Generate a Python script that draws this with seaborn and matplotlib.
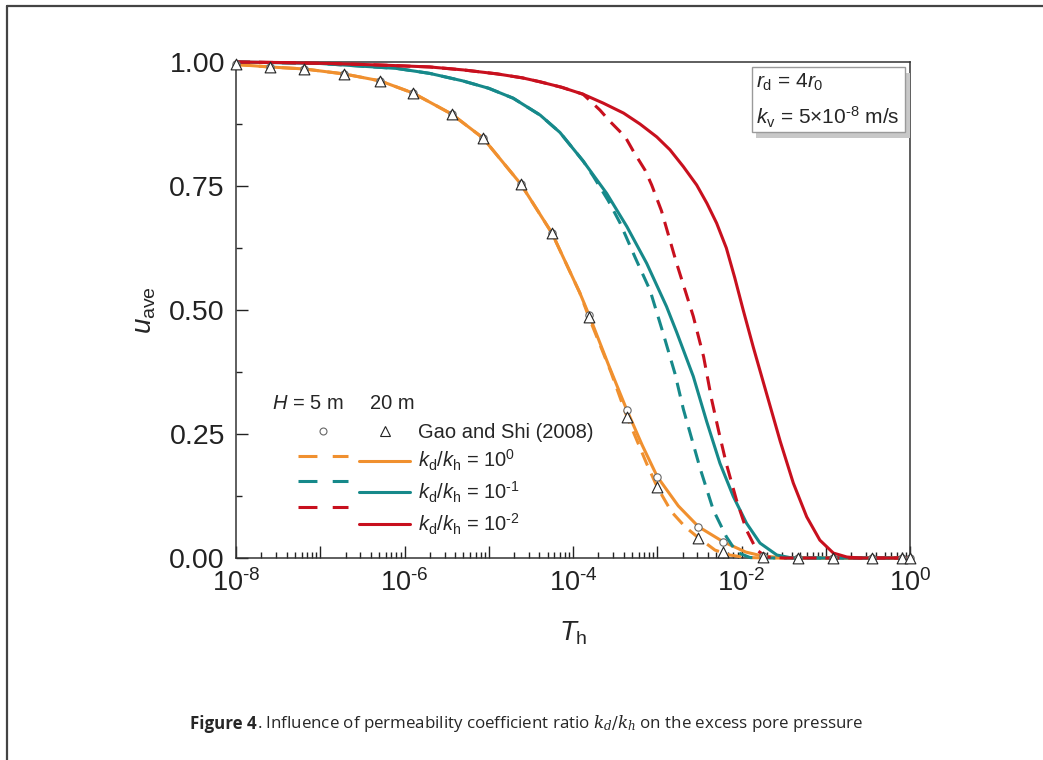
import numpy as np
import pandas as pd
import matplotlib.pyplot as plt
import matplotlib.ticker as mticker
import seaborn as sns
from matplotlib.lines import Line2D
from matplotlib.patches import Rectangle

# ---- data (log10 of T_h, u_ave) ----
# Gao and Shi (2008) points
gao_logT = [-8.0, -7.6, -7.19, -6.72, -6.29, -5.9, -5.44, -5.07, -4.62, -4.25, -3.81,
            -3.36, -3.0, -2.52, -2.22, -1.74, -1.33, -0.91, -0.455, -0.1, 0.0]
gao_u_5m = [0.995, 0.99, 0.986, 0.976, 0.962, 0.9375, 0.895, 0.847, 0.754, 0.655, 0.49,
            0.298, 0.164, 0.063, 0.033, 0.004, 0.0, 0.0, 0.0, 0.0, 0.0]
gao_u_20m = [0.995, 0.99, 0.986, 0.976, 0.962, 0.9375, 0.895, 0.847, 0.754, 0.655, 0.485,
             0.285, 0.143, 0.04, 0.013, 0.003, 0.0, 0.0, 0.0, 0.0, 0.0]

# kd/kh = 10^0
r0_solid_logT = [-8.0, -7.6, -7.19, -6.72, -6.29, -5.9, -5.44, -5.07, -4.62, -4.25, -3.92, -3.81,
                 -3.58, -3.36, -3.18, -3.0, -2.75, -2.51, -2.22, -1.95, -1.75, -1.55, -1.3, 0.0]
r0_solid_u = [0.995, 0.99, 0.986, 0.976, 0.962, 0.9375, 0.895, 0.847, 0.754, 0.655, 0.535, 0.49,
              0.39, 0.298, 0.228, 0.164, 0.105, 0.063, 0.033, 0.012, 0.004, 0.001, 0.0, 0.0]
r0_dash_logT = [-8.0, -7.6, -7.19, -6.72, -6.29, -5.9, -5.44, -5.07, -4.62, -4.25, -3.92, -3.81,
                -3.55, -3.36, -3.125, -3.0, -2.83, -2.67, -2.52, -2.315, -2.14, -1.95, -1.7, 0.0]
r0_dash_u = [0.995, 0.99, 0.986, 0.976, 0.962, 0.9375, 0.895, 0.847, 0.754, 0.655, 0.535, 0.485,
             0.375, 0.285, 0.19, 0.143, 0.093, 0.063, 0.042, 0.016, 0.006, 0.001, 0.0, 0.0]

# kd/kh = 10^-1
r1_solid_logT = [-8.0, -7.0, -6.09, -5.7, -5.31, -5.0, -4.71, -4.39, -4.155, -3.878, -3.6, -3.36,
                 -3.125, -2.89, -2.769, -2.572, -2.413, -2.256, -2.097, -1.94, -1.78, -1.58, -1.4, 0.0]
r1_solid_u = [1.0, 0.997, 0.987, 0.977, 0.962, 0.947, 0.927, 0.893, 0.858, 0.80, 0.735, 0.668,
              0.594, 0.507, 0.455, 0.366, 0.275, 0.191, 0.124, 0.07, 0.03, 0.006, 0.0, 0.0]
r1_dash_logT = [-8.0, -7.0, -6.09, -5.7, -5.31, -5.0, -4.71, -4.39, -4.155, -3.878, -3.76, -3.58,
                -3.44, -3.26, -3.086, -2.93, -2.79, -2.69, -2.59, -2.49, -2.335, -2.18, -2.06,
                -1.9, -1.7, 0.0]
r1_dash_u = [1.0, 0.997, 0.987, 0.977, 0.962, 0.947, 0.927, 0.893, 0.858, 0.80, 0.77, 0.72,
             0.675, 0.605, 0.54, 0.453, 0.372, 0.30, 0.24, 0.18, 0.097, 0.043, 0.012,
             0.001, 0.0, 0.0]

# kd/kh = 10^-2
r2_solid_logT = [-8.0, -7.5, -6.88, -6.3, -5.7, -5.3, -4.9, -4.6, -4.39, -4.134, -3.88, -3.64,
                 -3.4, -3.205, -3.006, -2.849, -2.69, -2.532, -2.41, -2.295, -2.18, -2.08, -1.98,
                 -1.86, -1.7, -1.54, -1.385, -1.226, -1.07, -0.91, -0.75, -0.6, 0.0]
r2_solid_u = [1.0, 0.999, 0.997, 0.994, 0.99, 0.984, 0.976, 0.968, 0.96, 0.949, 0.935, 0.917,
              0.897, 0.875, 0.849, 0.823, 0.789, 0.752, 0.715, 0.675, 0.625, 0.565, 0.50,
              0.425, 0.33, 0.235, 0.151, 0.083, 0.036, 0.01, 0.002, 0.0, 0.0]
r2_dash_logT = [-8.0, -7.5, -6.88, -6.3, -5.7, -5.3, -4.9, -4.6, -4.39, -4.134, -3.88, -3.68,
                -3.56, -3.38, -3.28, -3.145, -3.066, -2.95, -2.85, -2.77, -2.67, -2.572, -2.45,
                -2.355, -2.27, -2.18, -2.06, -1.94, -1.82, -1.7, -1.5, 0.0]
r2_dash_u = [1.0, 0.999, 0.997, 0.994, 0.99, 0.984, 0.976, 0.968, 0.96, 0.949, 0.935, 0.903,
             0.88, 0.849, 0.819, 0.782, 0.752, 0.70, 0.641, 0.594, 0.54, 0.487, 0.406,
             0.32, 0.255, 0.19, 0.117, 0.056, 0.016, 0.002, 0.0, 0.0]

ratio_labels = [r'$k_{\rm d}/k_{\rm h}$ = 10$^{0}$', r'$k_{\rm d}/k_{\rm h}$ = 10$^{\text{-}1}$',
                r'$k_{\rm d}/k_{\rm h}$ = 10$^{\text{-}2}$']
colors = ['#F0902F', '#16898A', '#C8101E']

curves = [
    (r0_dash_logT, r0_dash_u, colors[0], True),
    (r0_solid_logT, r0_solid_u, colors[0], False),
    (r1_dash_logT, r1_dash_u, colors[1], True),
    (r1_solid_logT, r1_solid_u, colors[1], False),
    (r2_dash_logT, r2_dash_u, colors[2], True),
    (r2_solid_logT, r2_solid_u, colors[2], False),
]

sns.set_style('ticks')
plt.rcParams['font.family'] = ['Liberation Sans', 'DejaVu Sans']
plt.rcParams['mathtext.fontset'] = 'custom'
plt.rcParams['mathtext.rm'] = 'Liberation Sans'
plt.rcParams['mathtext.it'] = 'Liberation Sans:italic'
plt.rcParams['mathtext.bf'] = 'Liberation Sans:bold'

fig = plt.figure(figsize=(10.43, 7.6), dpi=100)
ax = fig.add_axes([236 / 1043, 1 - 558 / 760, 674 / 1043, 496 / 760])

lw = 2.2
dash_style = (0, (4.6, 2.9))
for logT, u, c, dashed in curves:
    df = pd.DataFrame({'T': 10.0 ** np.array(logT), 'u': u})
    sns.lineplot(data=df, x='T', y='u', ax=ax, color=c, lw=lw, estimator=None, sort=False,
                 linestyle=dash_style if dashed else '-', clip_on=False, zorder=3)

gao = pd.DataFrame({'T': 10.0 ** np.array(gao_logT), 'u5': gao_u_5m, 'u20': gao_u_20m})
sns.scatterplot(data=gao, x='T', y='u5', ax=ax, marker='o', s=28, color='white',
                edgecolor='#666666', linewidth=0.8, clip_on=False, zorder=5)
sns.scatterplot(data=gao, x='T', y='u20', ax=ax, marker='^', s=60, color='white',
                edgecolor='#222222', linewidth=0.8, clip_on=False, zorder=6)

ax.set_xscale('log')
ax.set_xlim(1e-8, 1)
ax.set_ylim(0, 1)
ax.xaxis.set_major_locator(mticker.LogLocator(base=10, numticks=20))
ax.xaxis.set_minor_locator(mticker.LogLocator(base=10, subs=np.arange(2, 10), numticks=20))


def xfmt(v, pos):
    e = int(round(np.log10(v)))
    if e % 2:
        return ''
    if e < 0:
        return r'$10^{\text{-}%d}$' % (-e)
    return r'$10^{%d}$' % e


ax.xaxis.set_major_formatter(mticker.FuncFormatter(xfmt))
ax.xaxis.set_minor_formatter(mticker.NullFormatter())
ax.yaxis.set_major_locator(mticker.MultipleLocator(0.25))
ax.yaxis.set_minor_locator(mticker.MultipleLocator(0.125))
ax.yaxis.set_major_formatter(mticker.FormatStrFormatter('%.2f'))
ax.tick_params(which='both', direction='in', top=False, right=False, colors='#222222',
               width=1.0)
ax.tick_params(axis='x', labelsize=19.5)
ax.tick_params(axis='y', labelsize=20.5)
ax.tick_params(which='major', length=8.5, pad=8)
ax.tick_params(which='minor', length=4.5)
for s in ax.spines.values():
    s.set_linewidth(1.1)
    s.set_color('#333333')

ax.set_xlabel(r'$T_{\rm h}$', fontsize=20)
ax.set_ylabel(r'$u_{\rm ave}$', fontsize=20)
ax.xaxis.set_label_coords(0.5, -0.124)
ax.yaxis.set_label_coords(-0.115, 0.5)

# parameter box with shadow
ax.add_patch(Rectangle((0.772, 0.847), 0.2276, 0.1315, transform=ax.transAxes,
                       facecolor='#c8c8c8', edgecolor='none', zorder=7, clip_on=False))
ax.add_patch(Rectangle((0.765, 0.859), 0.2276, 0.1315, transform=ax.transAxes,
                       facecolor='white', edgecolor='#9a9a9a', lw=1.0, zorder=8))
ax.text(0.771, 0.958, r'$r_{\rm d}$ = 4$r_0$', transform=ax.transAxes, fontsize=15,
        va='center', ha='left', zorder=9)
ax.text(0.771, 0.889, r'$k_{\rm v}$ = 5×10$^{\text{-}8}$ m/s', transform=ax.transAxes,
        fontsize=15, va='center', ha='left', zorder=9)

# legend header
ax.text(0.053, 0.311, r'$H$ = 5 m', transform=ax.transAxes, fontsize=14.5, va='center')
ax.text(0.199, 0.311, '20 m', transform=ax.transAxes, fontsize=14.5, va='center')

h_circ = Line2D([], [], ls='none', marker='o', ms=5, mfc='white', mec='#666666', mew=0.8)
h_tri = Line2D([], [], ls='none', marker='^', ms=7, mfc='white', mec='#222222', mew=0.8)
h_dash = [Line2D([], [], color=c, lw=lw, linestyle=(0, (6.2, 5.0))) for c in colors]
h_solid = [Line2D([], [], color=c, lw=lw) for c in colors]
handles = [h_circ] + h_dash + [h_tri] + h_solid
labels = ['', '', '', ''] + ['Gao and Shi (2008)'] + ratio_labels
ax.legend(handles, labels, ncol=2, frameon=False, loc='upper left',
          bbox_to_anchor=(0.092, 0.273), fontsize=14.5, handlelength=2.5,
          handletextpad=0.4, columnspacing=0.15, labelspacing=0.32,
          borderpad=0, borderaxespad=0)

# figure frame and caption
fig.add_artist(Line2D([7 / 1043, 7 / 1043], [0, 1 - 6 / 760], transform=fig.transFigure,
                      color='#444444', lw=1.6))
fig.add_artist(Line2D([7 / 1043, 1], [1 - 6 / 760, 1 - 6 / 760], transform=fig.transFigure,
                      color='#444444', lw=1.6))
cap_y = 1 - 724 / 760
t1 = fig.text(190 / 1043, cap_y, 'Figure 4', family='Open Sans', weight='bold',
              fontsize=12.2, va='center')
fig.canvas.draw()
bb = t1.get_window_extent(fig.canvas.get_renderer())
fig.text(bb.x1 / 1043, cap_y,
         '. Influence of permeability coefficient ratio $k_d/k_h$ on the excess pore pressure',
         family='Open Sans', fontsize=12.2, va='center', math_fontfamily='dejavuserif')

fig.savefig('out.png', dpi=100)
